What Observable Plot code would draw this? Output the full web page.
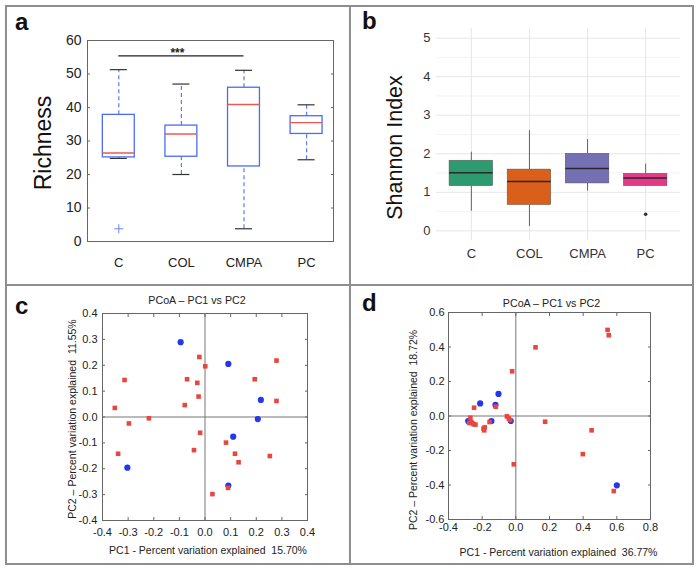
<!DOCTYPE html>
<html><head><meta charset="utf-8">
<script src="https://cdn.jsdelivr.net/npm/d3@7"></script>
<script src="https://cdn.jsdelivr.net/npm/@observablehq/plot@0.6"></script>
<style>
body{margin:0;background:#fff;}
#fig{position:relative;width:700px;height:572px;overflow:hidden;font-family:"Liberation Sans",Arial,sans-serif;}
.panel{position:absolute;}
.line{position:absolute;background:#8e8e8e;}
.lab{position:absolute;font-weight:bold;font-size:24px;line-height:24px;color:#111;}
</style></head>
<body><div id="fig"></div>
<script>
// ---------- data ----------
const categories = ["C", "COL", "CMPA", "PC"];
// panel a: Richness boxplot
const richLow = [24.8, 20.0, 3.8, 24.4];
const richQ1 = [25.1, 25.3, 22.4, 32.1];
const richMedian = [26.4, 32.1, 40.9, 35.5];
const richQ3 = [37.8, 34.6, 45.9, 37.4];
const richHigh = [51.3, 47.0, 51.1, 40.8];
const richOutlierGroups = ["C"];
const richOutlierValues = [3.8];
const sigFrom = ["C"], sigTo = ["CMPA"], sigY = [55.4], sigLabel = ["***"];
const richTicks = [0, 10, 20, 30, 40, 50, 60];
// panel b: Shannon boxplot
const shanLow = [0.51, 0.11, 1.03, 1.15];
const shanQ1 = [1.16, 0.67, 1.23, 1.16];
const shanMedian = [1.51, 1.28, 1.62, 1.37];
const shanQ3 = [1.82, 1.59, 2.0, 1.48];
const shanHigh = [2.04, 2.6, 2.37, 1.73];
const shanColors = ["#2e9a70", "#d95f1a", "#7570b3", "#e23a86"];
const shanOutlierGroups = ["PC"];
const shanOutlierValues = [0.43];
const shanTicks = [0, 1, 2, 3, 4, 5];
const shanMinorTicks = [0.5, 1.5, 2.5, 3.5, 4.5];
// panel c: PCoA
const cBlueX = [-0.095, 0.091, 0.218, 0.206, 0.110, 0.091, -0.303];
const cBlueY = [0.289, 0.205, 0.066, -0.008, -0.076, -0.265, -0.196];
const cRedX = [-0.022, 0.001, 0.279, -0.314, -0.070, -0.030, 0.194, -0.025, -0.079, 0.279, -0.352, -0.219, -0.297, -0.019, 0.082, -0.043, -0.339, 0.117, 0.131, 0.253, 0.090, 0.029];
const cRedY = [0.232, 0.196, 0.218, 0.143, 0.146, 0.132, 0.146, 0.079, 0.046, 0.062, 0.035, -0.005, -0.025, -0.061, -0.099, -0.128, -0.142, -0.142, -0.175, -0.151, -0.274, -0.298];
const cTicks = [-0.4, -0.3, -0.2, -0.1, 0, 0.1, 0.2, 0.3, 0.4];
const cTitle = "PCoA – PC1 vs PC2";
const cXLabel = "PC1 - Percent variation explained  15.70%";
const cYLabel = "PC2 – Percent variation explained  11.55%";
// panel d: PCoA
const dBlueX = [-0.283, -0.212, -0.103, -0.121, -0.145, -0.030, 0.600];
const dBlueY = [-0.029, 0.073, 0.128, 0.064, -0.029, -0.029, -0.402];
const dRedX = [0.545, 0.552, 0.117, -0.022, -0.119, -0.248, -0.270, -0.277, -0.265, -0.258, -0.250, -0.240, -0.192, -0.188, -0.185, -0.156, -0.053, -0.042, -0.034, 0.174, 0.450, 0.398, -0.012, 0.582];
const dRedY = [0.499, 0.468, 0.398, 0.259, 0.054, 0.048, -0.010, -0.040, -0.035, -0.042, -0.048, -0.050, -0.073, -0.083, -0.066, -0.035, -0.002, -0.014, -0.023, -0.033, -0.083, -0.221, -0.280, -0.435];
const dXTicks = [-0.4, -0.2, 0, 0.2, 0.4, 0.6, 0.8];
const dYTicks = [-0.6, -0.4, -0.2, 0, 0.2, 0.4, 0.6];
const dTitle = "PCoA – PC1 vs PC2";
const dXLabel = "PC1 - Percent variation explained  36.77%";
const dYLabel = "PC2 – Percent variation explained  18.72%";

// ---------- helpers ----------
const FONT = "'Liberation Sans', Arial, sans-serif";
const idx = c => categories.indexOf(c) + 1;
const fmt1 = d => d.toFixed(1);
const fig = document.getElementById("fig");
function place(node, left, top) {
  const d = document.createElement("div");
  d.className = "panel"; d.style.left = left + "px"; d.style.top = top + "px";
  d.appendChild(node); fig.appendChild(d);
}
function style(size) {
  return {fontFamily: FONT, fontSize: size + "px", color: "#222", background: "transparent", overflow: "visible"};
}

// ---------- panel a ----------
const richRows = categories.map((c, i) => ({c, i: i + 1, lo: richLow[i], q1: richQ1[i], med: richMedian[i], q3: richQ3[i], hi: richHigh[i]}));
const richOut = richOutlierGroups.map((g, i) => ({i: idx(g), v: richOutlierValues[i]}));
const sigRows = sigFrom.map((f, i) => ({a: idx(f), b: idx(sigTo[i]), y: sigY[i], label: sigLabel[i]}));
const BW = 0.255, CAP = 0.136;
const pa = Plot.plot({
  width: 350, height: 285, marginLeft: 87, marginRight: 17, marginTop: 40, marginBottom: 44,
  x: {domain: [0.5, 4.43], label: null},
  y: {domain: [0, 60], label: null},
  style: style(13),
  marks: [
    Plot.frame({stroke: "#666"}),
    Plot.axisY({ticks: richTicks, tickSize: 0, tickPadding: 6, tickFormat: d => String(d), label: null, fontSize: 14}),
    Plot.axisY({ticks: richTicks, tickSize: -3, tickFormat: () => "", label: null, stroke: "#666"}),
    Plot.axisY({anchor: "right", ticks: richTicks, tickSize: -3, tickFormat: () => "", label: null, stroke: "#666"}),
    Plot.axisX({ticks: [1, 2, 3, 4], tickFormat: d => categories[d - 1], tickSize: 0, tickPadding: 16, label: null}),
    Plot.ruleX(richRows, {x: "i", y1: "q3", y2: "hi", stroke: "#5b7cf5", strokeWidth: 1.2, strokeDasharray: "4,3"}),
    Plot.ruleX(richRows, {x: "i", y1: "lo", y2: "q1", stroke: "#5b7cf5", strokeWidth: 1.2, strokeDasharray: "4,3"}),
    Plot.ruleY(richRows, {y: "hi", x1: d => d.i - CAP, x2: d => d.i + CAP, stroke: "#333", strokeWidth: 1.2}),
    Plot.ruleY(richRows, {y: "lo", x1: d => d.i - CAP, x2: d => d.i + CAP, stroke: "#333", strokeWidth: 1.2}),
    Plot.rect(richRows, {x1: d => d.i - BW, x2: d => d.i + BW, y1: "q1", y2: "q3", fill: "none", stroke: "#4a6cf3", strokeWidth: 1.3}),
    Plot.ruleY(richRows, {y: "med", x1: d => d.i - BW, x2: d => d.i + BW, stroke: "#f0584e", strokeWidth: 1.4}),
    Plot.dot(richOut, {x: "i", y: "v", symbol: "plus", r: 3, stroke: "#6a86f5", strokeWidth: 1}),
    Plot.ruleY(sigRows, {y: "y", x1: "a", x2: "b", stroke: "#222", strokeWidth: 1.2}),
    Plot.text(sigRows, {x: d => (d.a + d.b) / 2, y: "y", text: "label", dy: -3, dx: -4, fontSize: 12, fontWeight: "bold"}),
    Plot.text(["Richness"], {frameAnchor: "left", textAnchor: "middle", lineAnchor: "middle", text: d => d, rotate: -90, dx: -44, dy: 2, fontSize: 23, fill: "#111"})
  ]
});
place(pa, 0, 0);

// ---------- panel b ----------
const shanRows = categories.map((c, i) => ({c, i: i + 1, lo: shanLow[i], q1: shanQ1[i], med: shanMedian[i], q3: shanQ3[i], hi: shanHigh[i], color: shanColors[i]}));
const shanOut = shanOutlierGroups.map((g, i) => ({i: idx(g), v: shanOutlierValues[i]}));
const pb = Plot.plot({
  width: 350, height: 285, marginLeft: 86, marginRight: 20, marginTop: 28, marginBottom: 45,
  x: {domain: [0.4, 4.6], label: null},
  y: {domain: [-0.25, 5.25], label: null},
  style: style(13),
  marks: [
    Plot.gridY({ticks: shanMinorTicks, stroke: "#f3f3f3", strokeOpacity: 1}),
    Plot.gridY({ticks: shanTicks, stroke: "#e6e6e6", strokeOpacity: 1}),
    Plot.gridX({ticks: [1, 2, 3, 4], stroke: "#e6e6e6", strokeOpacity: 1}),
    Plot.axisY({ticks: shanTicks, tickSize: 0, tickPadding: 6, tickFormat: d => String(d), label: null, fill: "#333"}),
    Plot.axisX({ticks: [1, 2, 3, 4], tickFormat: d => categories[d - 1], tickSize: 0, tickPadding: 8, label: null, fill: "#333"}),
    Plot.ruleX(shanRows, {x: "i", y1: "q3", y2: "hi", stroke: "#555", strokeWidth: 0.9}),
    Plot.ruleX(shanRows, {x: "i", y1: "lo", y2: "q1", stroke: "#555", strokeWidth: 0.9}),
    Plot.rect(shanRows, {x1: d => d.i - 0.375, x2: d => d.i + 0.375, y1: "q1", y2: "q3", fill: "color", stroke: "#555", strokeWidth: 0.5}),
    Plot.ruleY(shanRows, {y: "med", x1: d => d.i - 0.375, x2: d => d.i + 0.375, stroke: "#2a2a2a", strokeWidth: 1.5}),
    Plot.dot(shanOut, {x: "i", y: "v", r: 1.8, fill: "#333"}),
    Plot.text(["Shannon Index"], {frameAnchor: "left", textAnchor: "middle", lineAnchor: "middle", text: d => d, rotate: -90, dx: -41, dy: 13, fontSize: 21.5, fill: "#111"})
  ]
});
place(pb, 350, 0);

// ---------- panels c, d ----------
function pcoa(o) {
  const blue = o.bx.map((x, i) => ({x, y: o.by[i]}));
  const red = o.rx.map((x, i) => ({x, y: o.ry[i]}));
  return Plot.plot({
    width: 350, height: 287, marginLeft: o.ml, marginRight: o.mr, marginTop: o.mt, marginBottom: o.mb,
    x: {domain: o.xd, label: null},
    y: {domain: o.yd, label: null},
    style: style(11),
    marks: [
      Plot.ruleX([0], {stroke: "#777", strokeWidth: 1}),
      Plot.ruleY([0], {stroke: "#777", strokeWidth: 1}),
      Plot.frame({stroke: "#666"}),
      Plot.axisX({ticks: o.xt, tickSize: 0, tickPadding: o.xpad, tickFormat: fmt1, label: null}),
      Plot.axisX({ticks: o.xt, tickSize: -3, tickFormat: () => "", label: null, stroke: "#666"}),
      Plot.axisX({anchor: "top", ticks: o.xt, tickSize: -3, tickFormat: () => "", label: null, stroke: "#666"}),
      Plot.axisY({ticks: o.yt, tickSize: 0, tickPadding: o.ypad, tickFormat: fmt1, label: null}),
      Plot.axisY({ticks: o.yt, tickSize: -3, tickFormat: () => "", label: null, stroke: "#666"}),
      Plot.axisY({anchor: "right", ticks: o.yt, tickSize: -3, tickFormat: () => "", label: null, stroke: "#666"}),
      Plot.dot(blue, {x: "x", y: "y", r: 3.1, fill: "#2336f0"}),
      Plot.dot(red, {x: "x", y: "y", r: 2.6, symbol: "square", fill: "#e8463e"}),
      Plot.text([o.title], {frameAnchor: "top", textAnchor: "middle", lineAnchor: "middle", text: d => d, dy: o.tdy, dx: o.tdx, fontSize: 10.7}),
      Plot.text([o.xl], {frameAnchor: "bottom", textAnchor: "middle", lineAnchor: "middle", text: d => d, dy: o.xldy, dx: o.xldx, fontSize: 10.5}),
      Plot.text([o.yl], {frameAnchor: "left", textAnchor: "middle", lineAnchor: "middle", text: d => d, rotate: -90, dx: o.yldx, dy: o.yldy, fontSize: 10.5})
    ]
  });
}
const pc = pcoa({bx: cBlueX, by: cBlueY, rx: cRedX, ry: cRedY, xd: [-0.4, 0.4], yd: [-0.4, 0.4], xt: cTicks, yt: cTicks,
  ml: 102, mr: 43, mt: 28, mb: 52, xpad: 8, ypad: 5, title: cTitle, xl: cXLabel, yl: cYLabel,
  tdy: -13, tdx: -8, xldy: 30, xldx: 3, yldx: -30, yldy: 2});
place(pc, 0, 285);
const pd = pcoa({bx: dBlueX, by: dBlueY, rx: dRedX, ry: dRedY, xd: [-0.4, 0.8], yd: [-0.6, 0.6], xt: dXTicks, yt: dYTicks,
  ml: 98, mr: 50, mt: 27, mb: 53, xpad: 4, ypad: 4, title: dTitle, xl: dXLabel, yl: dYLabel,
  tdy: -9, tdx: 2, xldy: 33, xldx: 9, yldx: -35, yldy: 14});
place(pd, 350, 285);

// ---------- panel borders and letters ----------
[[5, 5, 689, 2], [5, 563, 689, 2], [5, 5, 2, 560], [692, 5, 2, 560], [349, 5, 2, 560], [5, 284, 689, 2]].forEach(([l, t, w, h]) => {
  const d = document.createElement("div"); d.className = "line";
  Object.assign(d.style, {left: l + "px", top: t + "px", width: w + "px", height: h + "px"});
  fig.appendChild(d);
});
[["a", 15, 10], ["b", 362, 9], ["c", 15, 294], ["d", 362, 291]].forEach(([t, l, tp]) => {
  const d = document.createElement("div"); d.className = "lab"; d.textContent = t;
  d.style.left = l + "px"; d.style.top = tp + "px"; fig.appendChild(d);
});
</script>
</body></html>
